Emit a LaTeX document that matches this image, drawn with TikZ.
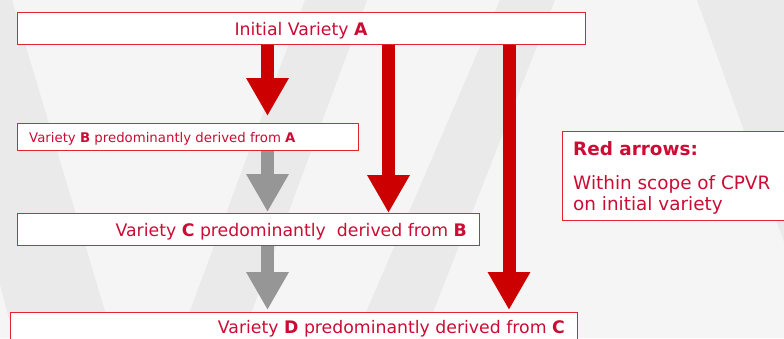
\documentclass[tikz,border=0pt]{standalone}
\usepackage{fontspec}
\setmainfont{DejaVu Sans}
\usetikzlibrary{arrows.meta}

\definecolor{bglight}{RGB}{245,245,245}
\definecolor{bgdark}{RGB}{234,234,234}
\definecolor{boxline}{RGB}{226,36,48}
\definecolor{txtred}{RGB}{204,12,52}
\definecolor{arrred}{RGB}{204,0,0}
\definecolor{arrgray}{RGB}{150,150,150}

\tikzset{
  varbox/.style={draw=boxline, line width=1.1pt, fill=white, rectangle,
    inner sep=0pt, anchor=north west},
  maintxt/.style={text=txtred, inner sep=0pt, font=\fontsize{17.3}{20}\selectfont},
  smalltxt/.style={text=txtred, inner sep=0pt, font=\fontsize{13.3}{16}\selectfont},
  legtxt/.style={text=txtred, inner sep=0pt, font=\fontsize{18.4}{22}\selectfont},
  bigarrow/.style={line width=13pt, -{Triangle[width=40pt,length=38pt]}},
  redarrow/.style={bigarrow, draw=arrred, arrred},
  grayarrow/.style={bigarrow, draw=arrgray, arrgray}
}

\begin{document}
\begin{tikzpicture}[x=1pt, y=-1pt]
\useasboundingbox (0,0) rectangle (784,338);
\clip (0,0) rectangle (784,338);

% background with slanted bands
\fill[bglight] (0,0) rectangle (784,338);
\fill[bgdark] (0,0) -- (12,0) -- (113,338) -- (0,338) -- cycle;
\fill[bglight] (0,285) -- (14,338) -- (0,338) -- cycle;
\fill[bgdark] (305,0) -- (367,0) -- (242,338) -- (180,338) -- cycle;
\fill[bgdark] (500,0) -- (555,0) -- (423,338) -- (355,338) -- cycle;
\fill[bgdark] (697,0) -- (784,0) -- (784,242) -- cycle;

% variety boxes
\node[varbox, minimum width=568pt, minimum height=32pt] (A) at (17,12) {};
\node[varbox, minimum width=341pt, minimum height=27pt] (B) at (17,123) {};
\node[varbox, minimum width=462pt, minimum height=32pt] (C) at (17,213) {};
\node[varbox, minimum width=567pt, minimum height=32pt] (D) at (10,312) {};
\node[varbox, minimum width=238pt, minimum height=89pt] (L) at (562,131) {};

% box texts
\node[maintxt, anchor=base] (tA) at (301,35) {Initial Variety \textbf{A}};
\node[smalltxt, anchor=base west] (tB) at (29,142)
  {Variety \textbf{B} predominantly derived from \textbf{A}};
\node[maintxt, anchor=base east] (tC) at (467,236)
  {Variety \textbf{C} predominantly~ derived from \textbf{B}};
\node[maintxt, anchor=base east] (tD) at (565,333)
  {Variety \textbf{D} predominantly derived from \textbf{C}};

% legend texts
\node[legtxt, anchor=base west] (l1) at (573,155) {\textbf{Red arrows:}};
\node[legtxt, anchor=base west] (l2) at (573,189) {Within scope of CPVR};
\node[legtxt, anchor=base west] (l3) at (573,210.5) {on initial variety};

% arrow columns
\coordinate (x1) at (267.5,0);
\coordinate (x2) at (388.5,0);
\coordinate (x3) at (509,0);

% derivation arrows
\draw[redarrow] (A.south -| x1) -- ([yshift=7pt]B.north -| x1);
\draw[redarrow] (A.south -| x2) -- (C.north -| x2);
\draw[redarrow] (A.south -| x3) -- ([yshift=2pt]D.north -| x3);
\draw[grayarrow] (B.south -| x1) -- ([yshift=1pt]C.north -| x1);
\draw[grayarrow] (C.south -| x1) -- ([yshift=2pt]D.north -| x1);
\end{tikzpicture}
\end{document}
